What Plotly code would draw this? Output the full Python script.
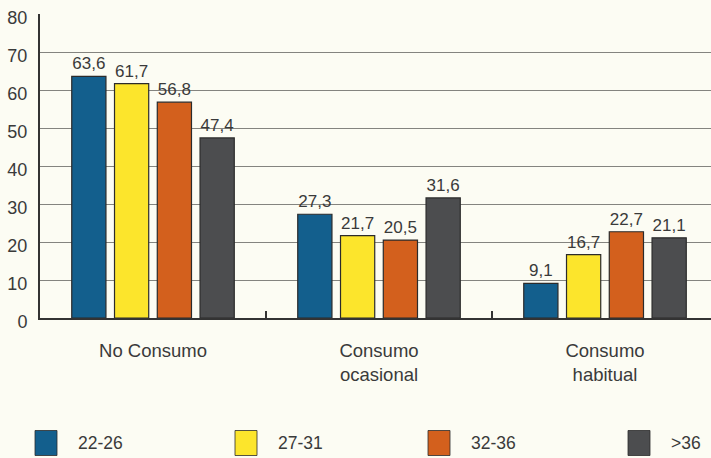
import plotly.graph_objects as go

# Consumption categories (x axis) and age groups (series)
categories = ["No Consumo", "Consumo<br>ocasional", "Consumo<br>habitual"]
age_groups = ["22-26", "27-31", "32-36", ">36"]

# Percentages per age group, in category order
values_22_26 = [63.6, 27.3, 9.1]
values_27_31 = [61.7, 21.7, 16.7]
values_32_36 = [56.8, 20.5, 22.7]
values_over_36 = [47.4, 31.6, 21.1]

series = [values_22_26, values_27_31, values_32_36, values_over_36]
colors = ["#135f8d", "#fce52c", "#d3601d", "#4c4d4f"]

y_ticks = [0, 10, 20, 30, 40, 50, 60, 70, 80]

bg = "#fcfcf3"
font_family = "Liberation Sans"
text_color = "#3a3a3a"

W, H = 711, 458
M_L, M_R, M_T, M_B = 40, 0, 14, 140
plot_w = W - M_L - M_R
plot_h = H - M_T - M_B

fig = go.Figure()
for name, vals, col in zip(age_groups, series, colors):
    fig.add_trace(go.Bar(
        x=categories,
        y=vals,
        name=name,
        showlegend=False,
        marker=dict(color=col, line=dict(color="#2b2b2b", width=1.2)),
        texttemplate="%{y:.1f}",
        textposition="outside",
        cliponaxis=False,
        textfont=dict(size=17, color=text_color, family=font_family),
    ))

# Legend row below the chart: a swatch and a label per age group
legend_left_px = [35, 235, 428, 628]
swatch_w, swatch_h = 22, 25
legend_mid_px = 443


def px_to_paper_x(px):
    return (px - M_L) / plot_w


def px_to_paper_y(py):
    return (H - M_B - py) / plot_h


shapes = []
annotations = []
for name, col, lx in zip(age_groups, colors, legend_left_px):
    shapes.append(dict(
        type="rect", xref="paper", yref="paper",
        x0=px_to_paper_x(lx), x1=px_to_paper_x(lx + swatch_w),
        y0=px_to_paper_y(legend_mid_px + swatch_h / 2),
        y1=px_to_paper_y(legend_mid_px - swatch_h / 2),
        fillcolor=col, line=dict(color="#2b2b2b", width=0.8),
    ))
    annotations.append(dict(
        xref="paper", yref="paper",
        x=px_to_paper_x(lx + swatch_w + 19), y=px_to_paper_y(legend_mid_px),
        xanchor="left", yanchor="middle", showarrow=False,
        text=name, font=dict(size=17.5, color=text_color, family=font_family),
    ))

fig.update_layout(
    width=W,
    height=H,
    margin=dict(l=M_L, r=M_R, t=M_T, b=M_B, autoexpand=False),
    paper_bgcolor=bg,
    plot_bgcolor=bg,
    barmode="group",
    bargap=0.243,
    bargroupgap=0.2,
    separators=",.",
    font=dict(family=font_family, color=text_color, size=17),
    showlegend=False,
    shapes=shapes,
    annotations=annotations,
)

fig.update_xaxes(
    range=[-0.5, 2.469],
    showline=True,
    linecolor="#333333",
    linewidth=2,
    ticks="inside",
    tickson="boundaries",
    ticklen=7,
    tickwidth=2,
    tickcolor="#333333",
    showgrid=False,
    tickfont=dict(size=18.5, color=text_color),
    ticklabelstandoff=15,
)

fig.update_yaxes(
    range=[0, 80],
    tickvals=y_ticks,
    showline=True,
    linecolor="#333333",
    linewidth=2,
    showgrid=True,
    gridcolor="#84847f",
    gridwidth=1,
    ticks="",
    tickfont=dict(size=18, color=text_color),
    ticklabelstandoff=7,
    ticklabelshift=4,
    zeroline=False,
)

fig.write_html("out.html")
